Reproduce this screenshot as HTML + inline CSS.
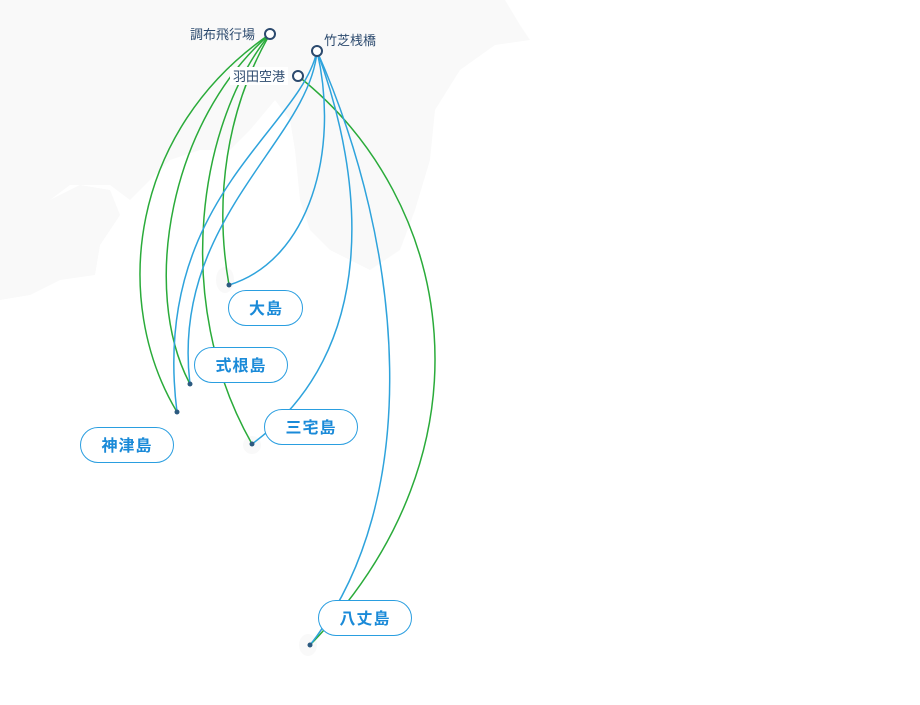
<!DOCTYPE html>
<html><head><meta charset="utf-8"><style>
html,body{margin:0;padding:0;background:#fff;}
svg{display:block;}
.o{font-family:"Liberation Sans","Noto Sans CJK JP",sans-serif;font-size:13px;fill:#2c4a6e;}
.d{font-family:"Liberation Sans","Noto Sans CJK JP",sans-serif;font-size:16px;font-weight:bold;fill:#1a8ad8;letter-spacing:1px;}
</style></head><body>
<svg width="920" height="705" viewBox="0 0 920 705">
<g fill="#f9f9f9">
<path d="M0,0 L505,0 L520,25 L530,40 L495,45 L460,70 L435,110 L430,160 L415,210 L400,250 L370,270 L330,250 L310,230 L300,200 L295,150 L290,120 L275,100 L250,130 L230,150 L200,150 L170,160 L150,180 L130,200 L110,185 L70,185 L50,200 L30,230 L10,260 L0,275 Z"/>
<path d="M0,275 L20,240 L50,200 L80,185 L110,190 L120,215 L100,245 L95,275 L60,280 L30,295 L0,300 Z"/>
<ellipse cx="225" cy="280" rx="9" ry="13"/>
<ellipse cx="252" cy="445" rx="9" ry="9"/>
<ellipse cx="308" cy="645" rx="9" ry="11"/>
</g>
<g fill="none" stroke-width="1.5">
<path stroke="#2aab3a" d="M270,34 C130,130 110,300 177,412"/>
<path stroke="#2aab3a" d="M270,34 C170,120 140,290 190,384"/>
<path stroke="#2aab3a" d="M270,34 C200,120 170,300 252,444"/>
<path stroke="#2aab3a" d="M270,34 C226,110 214,200 229,285"/>
<path stroke="#2aab3a" d="M298,76 C455,200 500,450 310,645"/>
<path stroke="#2ea3dc" d="M317,51 C340,150 310,260 229,285"/>
<path stroke="#2ea3dc" d="M317,51 C300,130 150,200 177,412"/>
<path stroke="#2ea3dc" d="M317,51 C310,140 170,220 190,384"/>
<path stroke="#2ea3dc" d="M317,51 C365,180 380,350 252,444"/>
<path stroke="#2ea3dc" d="M317,51 C405,250 425,500 310,645"/>
</g>
<g fill="#2c5a80">
<circle cx="229" cy="285" r="2.5"/><circle cx="190" cy="384" r="2.5"/><circle cx="177" cy="412" r="2.5"/><circle cx="252" cy="444" r="2.5"/><circle cx="310" cy="645" r="2.5"/>
</g>
<g fill="#fff" stroke="#2a9ee0" stroke-width="1">
<rect x="228.5" y="290.5" width="74" height="35" rx="17.5"/>
<rect x="194.5" y="347.5" width="93" height="35" rx="17.5"/>
<rect x="264.5" y="409.5" width="93" height="35" rx="17.5"/>
<rect x="80.5" y="427.5" width="93" height="35" rx="17.5"/>
<rect x="318.5" y="600.5" width="93" height="35" rx="17.5"/>
</g>
<g class="d" text-anchor="middle">
<text x="266" y="314">大島</text>
<text x="241" y="371">式根島</text>
<text x="311" y="433">三宅島</text>
<text x="127" y="451">神津島</text>
<text x="365" y="624">八丈島</text>
</g>
<rect x="230" y="67" width="58" height="18" fill="#fff"/>
<g fill="#fff" stroke="#2c4a6e" stroke-width="2">
<circle cx="270" cy="34" r="5"/><circle cx="317" cy="51" r="5"/><circle cx="298" cy="76" r="5"/>
</g>
<text class="o" x="190" y="39">調布飛行場</text>
<text class="o" x="324" y="45">竹芝桟橋</text>
<text class="o" x="233" y="81">羽田空港</text>
</svg>
</body></html>
